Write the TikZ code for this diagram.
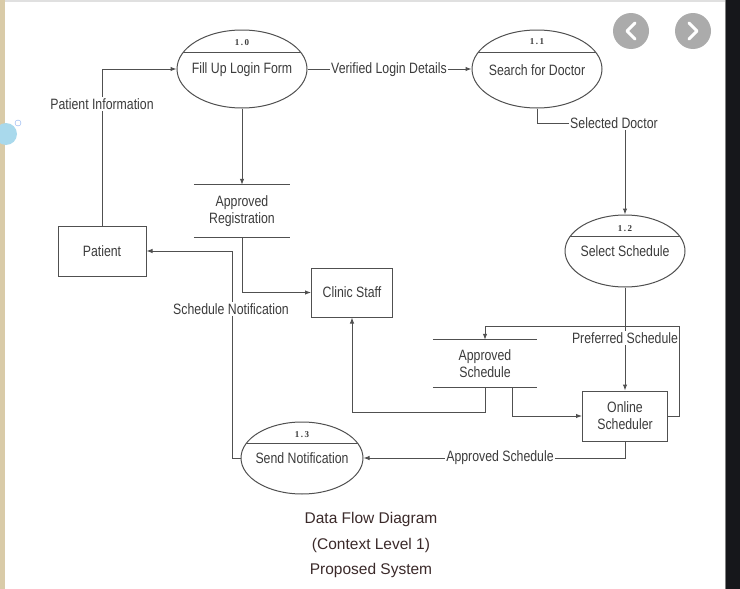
\documentclass[tikz,border=0pt]{standalone}
\usepackage{fontspec}
\setmainfont{Liberation Sans}
\newfontfamily\dfdfont[FakeStretch=0.82]{Liberation Sans}
\newfontfamily\numfont[LetterSpace=18,BoldFont={Liberation Serif Bold}]{Liberation Serif}
\usetikzlibrary{shapes.geometric,arrows.meta}
\definecolor{dfdline}{HTML}{505050}
\definecolor{dfdtext}{HTML}{3C3C3C}
\definecolor{captext}{HTML}{3B2A2A}
\definecolor{darkband}{HTML}{16171B}
\definecolor{beige}{HTML}{D9CBA8}
\definecolor{btngray}{HTML}{ABABAB}
\definecolor{bubble}{HTML}{A9D9EC}
\tikzset{
  proc/.style={draw=dfdline, line width=1pt, ellipse, inner sep=0pt,
    path picture={\draw[dfdline, line width=1pt]
      ([yshift=-#1]path picture bounding box.north west) --
      ([yshift=-#1]path picture bounding box.north east);}},
  ent/.style={draw=dfdline, line width=1pt, rectangle, inner sep=0pt, align=center,
    text=dfdtext, font=\dfdfont\fontsize{15}{17}\selectfont},
  store/.style={rectangle, inner sep=0pt, align=center,
    text=dfdtext, font=\dfdfont\fontsize{15}{17.5}\selectfont},
  txt/.style={inner sep=1pt, text=dfdtext, font=\dfdfont\fontsize{15}{17}\selectfont},
  lbl/.style={txt, fill=white},
  num/.style={inner sep=0pt, text=dfdtext, font=\numfont\bfseries\fontsize{9}{10}\selectfont},
  flow/.style={draw=dfdline, line width=1pt},
  caption/.style={inner sep=0pt, text=captext, font=\fontsize{15.5}{17}\selectfont}
}
\begin{document}
\begin{tikzpicture}[x=1pt, y=-1pt, >={Latex[length=6pt,width=4.5pt]}]
\useasboundingbox (0,0) rectangle (740,589);
% screen around the picture
\fill[white] (0,0) rectangle (740,589);
\fill[black!12] (0,0) rectangle (725,2);
\fill[beige] (0,0) rectangle (5,589);
\fill[darkband] (725,0) rectangle (740,589);
\draw[gray] (725,0) -- (725,589);
\fill[btngray] (631,31) circle (18pt);
\fill[btngray] (693,31) circle (18pt);
\draw[white, line width=3pt, line cap=round, line join=round] (635,23) -- (627,31) -- (635,39);
\draw[white, line width=3pt, line cap=round, line join=round] (689,23) -- (697,31) -- (689,39);
\fill[bubble] (6,134) circle (11pt);
\draw[bubble!80!blue] (18,123) circle (3pt);

% processes
\node[proc=22pt, minimum width=130pt, minimum height=78pt] (p10) at (242,69) {};
\node[num] (n10) at (242,43) {1.0};
\node[txt] (t10) at (242,70) {Fill Up Login Form};
\node[proc=22pt, minimum width=130pt, minimum height=78pt] (p11) at (537,69) {};
\node[num] (n11) at (537,42) {1.1};
\node[txt] (t11) at (537,70) {Search for Doctor};
\node[proc=21pt, minimum width=120pt, minimum height=72pt] (p12) at (625,251) {};
\node[num] (n12) at (625,229) {1.2};
\node[txt] (t12) at (625,251) {Select Schedule};
\node[proc=21pt, minimum width=122pt, minimum height=72pt] (p13) at (302,458) {};
\node[num] (n13) at (302,435) {1.3};
\node[txt] (t13) at (302,458) {Send Notification};

% entities
\node[ent, minimum width=88pt, minimum height=50pt] (patient) at (102,251) {Patient};
\node[ent, minimum width=81pt, minimum height=49pt] (clinic) at (352,292.5) {Clinic Staff};
\node[ent, minimum width=85pt, minimum height=50pt] (sched) at (625,416) {Online\\Scheduler};

% data stores
\node[store, minimum width=96pt, minimum height=52pt] (regstore) at (242,211) {Approved\\Registration};
\draw[flow] (regstore.north west) -- (regstore.north east) (regstore.south west) -- (regstore.south east);
\node[store, minimum width=104pt, minimum height=47pt] (schedstore) at (485,363.5) {Approved\\Schedule};
\draw[flow] (schedstore.north west) -- (schedstore.north east) (schedstore.south west) -- (schedstore.south east);

% flows
\coordinate (c1) at (625,123);
\coordinate (c2) at (679,326);
\coordinate (c3) at (352,412);
\coordinate (c4) at (232,251);
\draw[flow,->] (patient.north) |- (p10.west);
\draw[flow,->] (p10.east) -- (p11.west);
\draw[flow,->] (p10.south) -- (regstore.north);
\draw[flow,->] (regstore.south) |- (clinic.west);
\draw[flow,->] (p11.south) |- (c1) -- (p12.north);
\draw[flow,->] (p12.south) -- (sched.north);
\draw[flow,->] (sched.east) -| (c2) -| (schedstore.north);
\draw[flow,->] (schedstore.south) |- (c3) -- (clinic.south);
\draw[flow,->] ([xshift=27pt]schedstore.south) |- (sched.west);
\draw[flow,->] (sched.south) |- (p13.east);
\draw[flow,->] (p13.west) -| (c4) -- (patient.east);

% flow labels
\node[lbl] (l1) at (102,104) {Patient Information};
\node[lbl] (l2) at (389,70) {Verified Login Details};
\node[lbl] (l3) at (614,123) {Selected Doctor};
\node[lbl] (l4) at (625,338) {Preferred Schedule};
\node[lbl] (l5) at (500,458) {Approved Schedule};
\node[lbl] (l6) at (231,309) {Schedule Notification};

% caption
\node[caption] (cap1) at (371,519) {Data Flow Diagram};
\node[caption] (cap2) at (371,545) {(Context Level 1)};
\node[caption] (cap3) at (371,570) {Proposed System};
\end{tikzpicture}
\end{document}
